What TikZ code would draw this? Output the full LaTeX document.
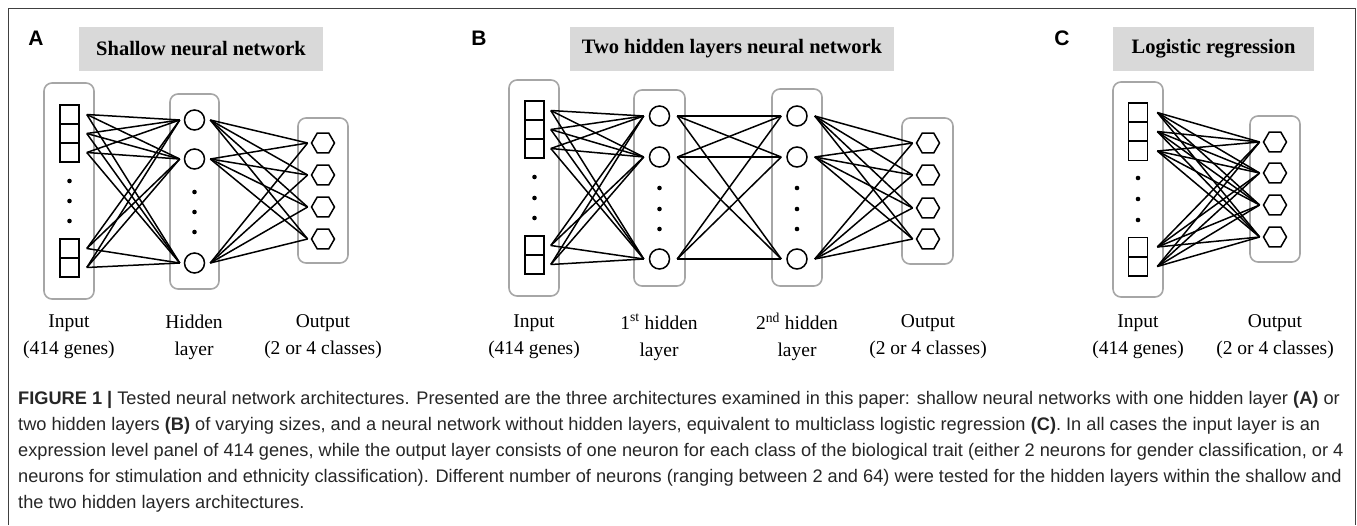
\documentclass[tikz,border=0pt]{standalone}
\usepackage{fontspec}
\setmainfont{Liberation Serif}
\setsansfont{Liberation Sans}
\usepackage{tikz}
\usetikzlibrary{
    shapes.geometric,
    positioning
}
\usepackage{xcolor}

\begin{document}
\begin{tikzpicture}[
        x=1pt, y=-1pt,
        outerframe/.style={draw=black!75, line width=1pt},
        panel/.style={font=\sffamily\bfseries\fontsize{21}{21}\selectfont},
        titlebox/.style={
            fill=black!15,
            minimum height=44pt,
            inner sep=0pt,
            font=\bfseries\fontsize{20.5}{20.5}\selectfont
        },
        layerbox/.style={draw=black!35, line width=1.6pt, rounded corners=8pt},
        cell/.style={draw, line width=1.6pt, minimum size=19pt, inner sep=0pt},
        neuron/.style={circle, draw, line width=1.5pt, minimum size=20pt, inner sep=0pt},
        outunit/.style={
            regular polygon,
            regular polygon sides=6,
            draw,
            line width=1.5pt,
            minimum size=23pt,
            inner sep=0pt
        },
        link/.style={line width=1.5pt},
        layername/.style={align=center, font=\fontsize{19.5}{27}\selectfont},
        capt/.style={
            align=left,
            inner sep=0pt,
            text=black!85,
            font=\sffamily\fontsize{18.2}{26}\selectfont
        }
    ]
        \useasboundingbox (0,0) rectangle (1357,525);
        \draw[outerframe] (8,525) -- (8,8) -- (1355,8) -- (1355,525);

        % A: shallow network
        \node[panel] (aLetter) at (36,38) {A};
        \node[titlebox, minimum width=244pt] (aTitle) at (201,49) {Shallow neural network};
        \draw[layerbox] (44,83) rectangle (94,299);
        \draw[layerbox] (170,94) rectangle (219,289);
        \draw[layerbox] (298,118) rectangle (348,263);
        \foreach \n/\y in {1/114.5,2/133.5,3/152.5,4/248.5,5/267.5}
            \node[cell] (aIn\n) at (69.5,\y) {};
        \foreach \n/\y in {1/120,2/159,3/263}
            \node[neuron] (aHid\n) at (194.5,\y) {};
        \foreach \n/\y in {1/143,2/175,3/207,4/239}
            \node[outunit] (aOut\n) at (323,\y) {};
        \foreach \y in {181,201,221} \fill (69.5,\y) circle (2.3pt);
        \foreach \y in {192,212,232} \fill (194.5,\y) circle (2.3pt);
        \foreach \i in {1,...,5}
            \foreach \j in {1,2,3}
                \draw[link] ([xshift=7pt]aIn\i.east) -- ([xshift=-4pt]aHid\j.west);
        \foreach \i in {1,2,3}
            \foreach \j in {1,...,4}
                \draw[link] ([xshift=5pt]aHid\i.east) -- ([xshift=-3pt]aOut\j.west);
        \node[layername] (aInName) at (69,337) {Input\\(414 genes)};
        \node[layername] (aHidName) at (194,337) {Hidden\\layer};
        \node[layername] (aOutName) at (323,337) {Output\\(2 or 4 classes)};

        % B: two hidden layers
        \node[panel] (bLetter) at (479,38) {B};
        \node[titlebox, minimum width=324pt] (bTitle) at (732,49) {Two hidden layers neural network};
        \draw[layerbox] (509,80) rectangle (559,296);
        \draw[layerbox] (634,90) rectangle (685,286);
        \draw[layerbox] (772,89) rectangle (822,286);
        \draw[layerbox] (902,118) rectangle (953,264);
        \foreach \n/\y in {1/110.5,2/129.5,3/148.5,4/245.5,5/264.5}
            \node[cell] (bIn\n) at (534.5,\y) {};
        \foreach \n/\y in {1/116,2/157,3/259}
            \node[neuron] (bHidA\n) at (659.5,\y) {};
        \foreach \n/\y in {1/116,2/157,3/259}
            \node[neuron] (bHidB\n) at (797,\y) {};
        \foreach \n/\y in {1/143,2/175,3/208,4/239}
            \node[outunit] (bOut\n) at (928,\y) {};
        \foreach \y in {177,198,218} \fill (534.5,\y) circle (2.3pt);
        \foreach \y in {188,209,229} {
            \fill (659.5,\y) circle (2.3pt);
            \fill (797,\y) circle (2.3pt);
        }
        \foreach \i in {1,...,5}
            \foreach \j in {1,2,3}
                \draw[link] ([xshift=6pt]bIn\i.east) -- ([xshift=-5pt]bHidA\j.west);
        \foreach \i in {1,2,3}
            \foreach \j in {1,2,3}
                \draw[link] ([xshift=7pt]bHidA\i.east) -- ([xshift=-5pt]bHidB\j.west);
        \foreach \i in {1,2,3}
            \foreach \j in {1,...,4}
                \draw[link] ([xshift=7pt]bHidB\i.east) -- ([xshift=-3pt]bOut\j.west);
        \node[layername] (bInName) at (534,337) {Input\\(414 genes)};
        \node[layername] (bHidAName) at (659,337) {1\textsuperscript{st} hidden\\layer};
        \node[layername] (bHidBName) at (797,337) {2\textsuperscript{nd} hidden\\layer};
        \node[layername] (bOutName) at (928,337) {Output\\(2 or 4 classes)};

        % C: logistic regression
        \node[panel] (cLetter) at (1062,38) {C};
        \node[titlebox, minimum width=201pt] (cTitle) at (1213.5,49) {Logistic regression};
        \draw[layerbox] (1113,82) rectangle (1163,297);
        \draw[layerbox] (1250,116) rectangle (1300,262);
        \foreach \n/\y in {1/112.5,2/131.5,3/151,4/247,5/266.5}
            \node[cell] (cIn\n) at (1138,\y) {};
        \foreach \n/\y in {1/142,2/173,3/205,4/237}
            \node[outunit] (cOut\n) at (1275,\y) {};
        \foreach \y in {178,199,220} \fill (1138,\y) circle (2.3pt);
        \foreach \i in {1,...,5}
            \foreach \j in {1,...,4}
                \draw[link] ([xshift=9pt]cIn\i.east) -- ([xshift=-3pt]cOut\j.west);
        \node[layername] (cInName) at (1138,337) {Input\\(414 genes)};
        \node[layername] (cOutName) at (1275,337) {Output\\(2 or 4 classes)};

        \node[capt, anchor=north west] (caption) at (18,391) {%
            \textbf{FIGURE 1 |} Tested neural network architectures. Presented are the three architectures examined in this paper: shallow neural networks with one hidden layer \textbf{(A)} or\\
            two hidden layers \textbf{(B)} of varying sizes, and a neural network without hidden layers, equivalent to multiclass logistic regression \textbf{(C)}. In all cases the input layer is an\\
            expression level panel of 414 genes, while the output layer consists of one neuron for each class of the biological trait (either 2 neurons for gender classification, or 4\\
            neurons for stimulation and ethnicity classification). Different number of neurons (ranging between 2 and 64) were tested for the hidden layers within the shallow and\\
            the two hidden layers architectures.};
\end{tikzpicture}
\end{document}
